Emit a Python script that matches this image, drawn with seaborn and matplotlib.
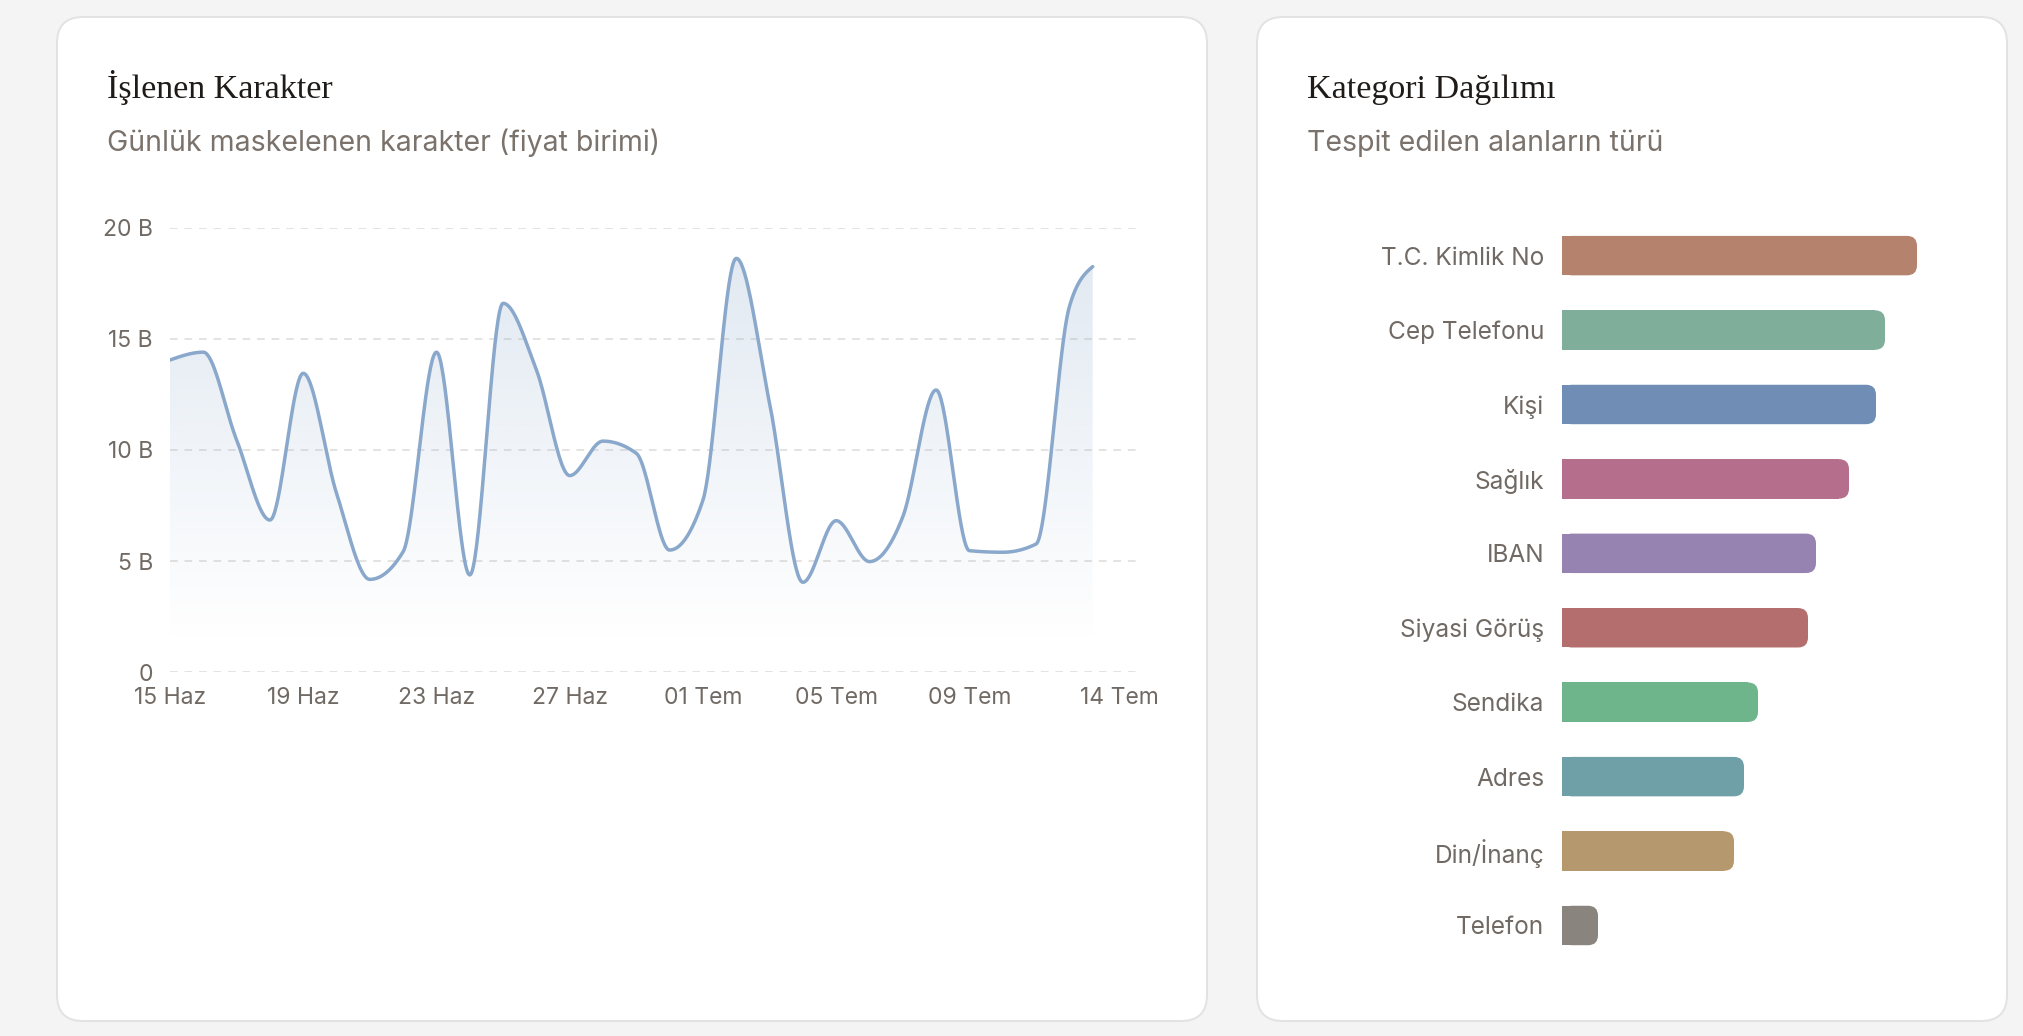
import numpy as np
import pandas as pd
import seaborn as sns
import matplotlib
matplotlib.use("Agg")
import matplotlib.pyplot as plt
import matplotlib.dates as mdates
from matplotlib.patches import FancyBboxPatch, Rectangle
from matplotlib.transforms import IdentityTransform, ScaledTranslation

# ---- data ----
dates = list(pd.date_range("2024-06-15", "2024-07-12", freq="D")) + [pd.Timestamp("2024-07-12 16:48")]
chars_b = [14.05, 14.4, 10.45, 6.85, 13.45, 8.05, 4.18, 5.43, 14.4,
           4.38, 16.6, 13.6, 8.85, 10.4, 9.85, 5.5, 7.75, 18.62, 12.1,
           4.05, 6.82, 4.98, 7.0, 12.7, 5.47, 5.4, 5.77, 16.45, 18.25]
tick_dates = ["2024-06-15", "2024-06-19", "2024-06-23", "2024-06-27",
              "2024-07-01", "2024-07-05", "2024-07-09", "2024-07-14"]
y_ticks = [0, 5, 10, 15, 20]
months_tr = {6: "Haz", 7: "Tem"}

categories = ["T.C. Kimlik No", "Cep Telefonu", "Kişi", "Sağlık", "IBAN",
              "Siyasi Görüş", "Sendika", "Adres", "Din/İnanç", "Telefon"]
counts = [3550, 3230, 3140, 2870, 2540, 2460, 1960, 1820, 1720, 360]
bar_colors = ["#b5826e", "#7fae9a", "#6f8db5", "#b56e8b", "#9783b2",
              "#b36e6d", "#6fb58b", "#6fa0a8", "#b5986e", "#8a847e"]

W, H = 2024, 1036
LINE = "#89a8cb"
TXT = "#716a64"
SUB = "#7a726b"
GRID = "#dedbd8"


def monotone(x, y, n=40):
    # d3 curveMonotoneX
    x = np.asarray(x, float)
    y = np.asarray(y, float)
    h = np.diff(x)
    s = np.diff(y) / h
    sg = lambda v: -1.0 if v < 0 else 1.0
    m = np.zeros_like(y)
    for i in range(1, len(y) - 1):
        p = (s[i - 1] * h[i] + s[i] * h[i - 1]) / (h[i - 1] + h[i])
        m[i] = (sg(s[i - 1]) + sg(s[i])) * min(abs(s[i - 1]), abs(s[i]), 0.5 * abs(p))
    m[0] = (3 * s[0] - m[1]) / 2
    m[-1] = (3 * s[-1] - m[-2]) / 2
    xs, ys = [], []
    for i in range(len(h)):
        t = np.linspace(0, 1, n, endpoint=(i == len(h) - 1))
        h00 = 2 * t**3 - 3 * t**2 + 1
        h10 = t**3 - 2 * t**2 + t
        h01 = -2 * t**3 + 3 * t**2
        h11 = t**3 - t**2
        xs.append(x[i] + t * h[i])
        ys.append(h00 * y[i] + h10 * h[i] * m[i] + h01 * y[i + 1] + h11 * h[i] * m[i + 1])
    return np.concatenate(xs), np.concatenate(ys)


sns.set_theme(style="white")
plt.rcParams["font.family"] = ["Inter", "DejaVu Sans"]

fig = plt.figure(figsize=(W / 100, H / 100), dpi=100)
fig.patch.set_facecolor("#f4f4f4")


def card(x0, y0, x1, y1):
    fig.add_artist(FancyBboxPatch((x0, H - y1), x1 - x0, y1 - y0,
                                  boxstyle="round,pad=0,rounding_size=26",
                                  transform=IdentityTransform(), fc="white",
                                  ec="#e2e2e2", lw=1.4, zorder=0))


card(57, 17, 1207, 1021)
card(1257, 17, 2007, 1021)

# titles
for x, title, sub in [(107, "İşlenen Karakter", "Günlük maskelenen karakter (fiyat birimi)"),
                      (1307, "Kategori Dağılımı", "Tespit edilen alanların türü")]:
    fig.text(x / W, 1 - 97.7 / H, title, family=["Liberation Serif", "DejaVu Serif"],
             fontsize=24.5, color="#1f1b18", va="baseline", ha="left")
    fig.text(x / W, 1 - 151 / H, sub, fontsize=20.5, color=SUB, va="baseline", ha="left")

# ---- line chart ----
ax1 = fig.add_axes([170 / W, (H - 672.3) / H, 966 / W, 444.6 / H])
ax1.set_facecolor("none")
xnum = mdates.date2num(dates)
xs, ys = monotone(xnum, chars_b)

poly = ax1.fill_between(xs, ys, 0, color="none", lw=0)
top = ys.max()
f = np.linspace(0, 1, 256)
alpha = 0.25 * np.clip((f - 0.07) / 0.93, 0, 1)
rgb = matplotlib.colors.to_rgb(LINE)
grad = np.zeros((256, 1, 4))
grad[:, 0, :3] = rgb
grad[:, 0, 3] = alpha
img = ax1.imshow(grad, extent=[xs[0], xs[-1], 0, top], aspect="auto",
                 origin="lower", zorder=1, interpolation="bilinear")
img.set_clip_path(poly.get_paths()[0], transform=ax1.transData)

sns.lineplot(x=xs, y=ys, ax=ax1, color=LINE, linewidth=2.5, sort=False,
             estimator=None, zorder=3)

ax1.set_xlim(mdates.date2num(pd.Timestamp("2024-06-15")), mdates.date2num(pd.Timestamp("2024-07-14")))
ax1.set_ylim(0, 20)
ax1.set_yticks(y_ticks)
ax1.set_yticklabels(["0" if v == 0 else f"{v} B" for v in y_ticks])
td = pd.to_datetime(tick_dates)
ax1.set_xticks(mdates.date2num(td))
ax1.set_xticklabels([f"{d.day:02d} {months_tr[d.month]}" for d in td])
ax1.tick_params(axis="both", length=0, labelsize=16.5, colors=TXT)
ax1.tick_params(axis="y", pad=12.3)
ax1.tick_params(axis="x", pad=10.5)
for sp in ax1.spines.values():
    sp.set_visible(False)
ax1.yaxis.grid(True, color=GRID, linestyle=(0, (5, 4.5)), linewidth=1.1)
ax1.xaxis.grid(False)
ax1.set_xlabel("")
ax1.set_ylabel("")
lbl = ax1.get_xticklabels()[-1]
lbl.set_transform(lbl.get_transform() + ScaledTranslation(-17 / 100, 0, fig.dpi_scale_trans))

# ---- bar chart ----
ax2 = fig.add_axes([1562 / W, (H - 962.7) / H, 400 / W, 744.3 / H])
ax2.set_facecolor("none")
df = pd.DataFrame({"kategori": categories, "adet": counts})
sns.barplot(data=df, x="adet", y="kategori", hue="kategori", palette=bar_colors,
            legend=False, ax=ax2, width=0.53, orient="h", saturation=1)
ax2.set_xlim(0, 4000)
ax2.set_ylim(9.5, -0.5)
ax2.set_xticks([])
ax2.set_xlabel("")
ax2.set_ylabel("")
ax2.tick_params(axis="y", length=0, labelsize=17.6, colors=TXT, pad=12.7)
for sp in ax2.spines.values():
    sp.set_visible(False)

r = 10
for p in list(ax2.patches):
    bb = p.get_bbox()
    (x0, y0), (x1, y1) = ax2.transData.transform([[bb.x0, bb.y0], [bb.x1, bb.y1]])
    x0, x1 = min(x0, x1), max(x0, x1)
    y0, y1 = min(y0, y1), max(y0, y1)
    fc = p.get_facecolor()
    p.set_visible(False)
    fig.add_artist(FancyBboxPatch((x0, y0), x1 - x0, y1 - y0,
                                  boxstyle=f"round,pad=0,rounding_size={r}",
                                  transform=IdentityTransform(), fc=fc, ec="none", zorder=2))
    fig.add_artist(Rectangle((x0, y0), max(x1 - x0 - r, 0), y1 - y0,
                             transform=IdentityTransform(), fc=fc, ec="none", zorder=2))

fig.savefig("out.png", dpi=100, facecolor=fig.get_facecolor())
